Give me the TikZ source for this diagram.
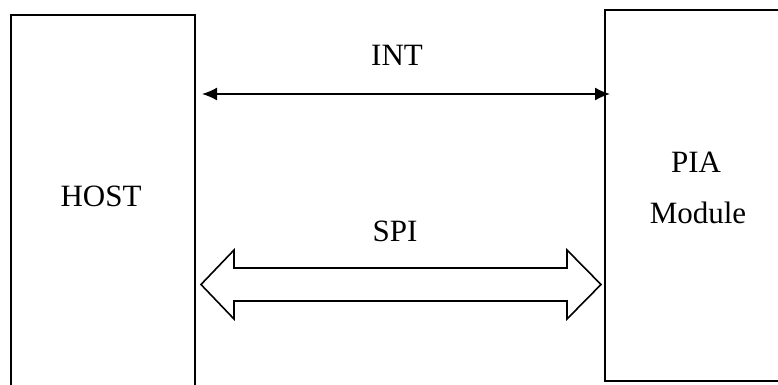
\documentclass[tikz,border=0pt]{standalone}
\usepackage{fontspec}
\setmainfont{Liberation Serif}
\usetikzlibrary{arrows.meta}

\tikzset{
  blockbox/.style={draw=black, line width=2pt},
  caption/.style={anchor=base, inner sep=0pt, font=\fontsize{31}{37}\selectfont},
  sigline/.style={line width=1.6pt, {Latex[length=15pt,width=13pt]}-{Latex[length=15pt,width=13pt]}},
  busarrow/.style={draw=black, fill=white, line width=1.6pt, line join=miter},
}

\begin{document}
\begin{tikzpicture}[x=1pt, y=-1pt]
  \useasboundingbox (0,0) rectangle (778,384);

  % the two blocks (HOST runs off the bottom, PIA Module off the right)
  \draw[blockbox] (11,15) rectangle (195,430);
  \draw[blockbox] (605,10) rectangle (820,381);

  \node[caption] (host) at (101,206.5) {HOST};
  \node[caption] (pia) at (696,172) {PIA};
  \node[caption] (module) at (698,223) {Module};

  % interrupt line
  \coordinate (intL) at (202,94);
  \coordinate (intR) at (610,94);
  \draw[sigline] (intL) -- (intR);
  \node[caption] (intlbl) at (397,65.5) {INT};

  % SPI bus: hollow double-headed arrow
  \coordinate (spiL) at (201,284.5);
  \coordinate (spiR) at (601,284.5);
  \draw[busarrow] (spiL) -- (234,250) -- (234,268) -- (567,268) -- (567,250)
        -- (spiR) -- (567,319) -- (567,301) -- (234,301) -- (234,319) -- cycle;
  \node[caption] (spilbl) at (395,241.5) {SPI};
\end{tikzpicture}
\end{document}
